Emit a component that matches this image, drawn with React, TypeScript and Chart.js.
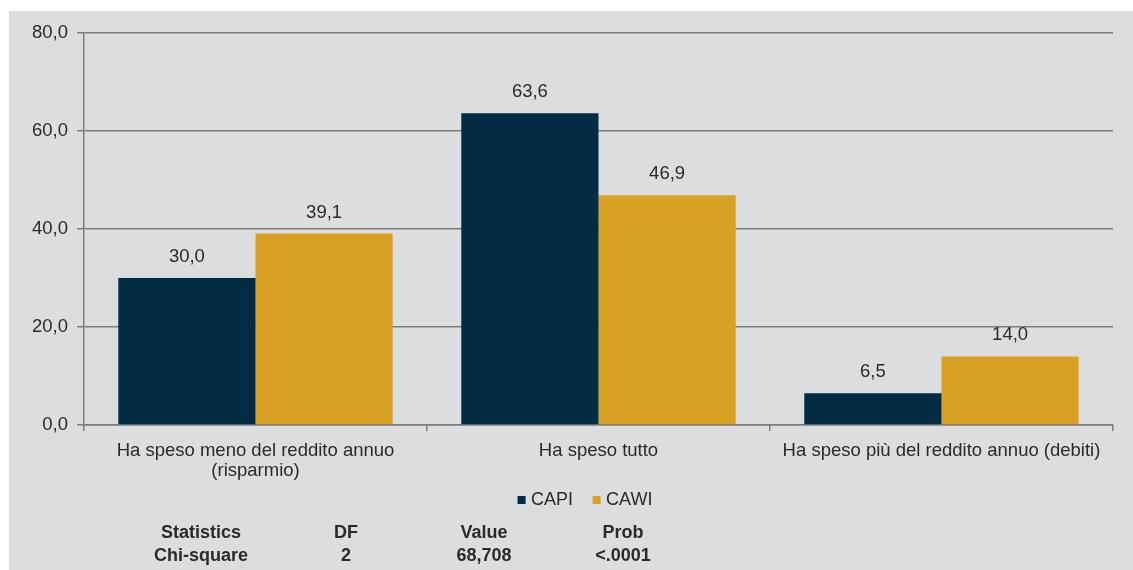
import React, { useEffect, useRef } from "react";
import { Chart, registerables } from "chart.js";

Chart.register(...registerables);

const categories: (string | string[])[] = [
  ["Ha speso meno del reddito annuo", "(risparmio)"],
  "Ha speso tutto",
  "Ha speso più del reddito annuo (debiti)",
];
const seriesNames = ["CAPI", "CAWI"];
const capiValues = [30.0, 63.6, 6.5];
const cawiValues = [39.1, 46.9, 14.0];
const seriesColors = ["#022b44", "#d8a124"];
const yMin = 0;
const yMax = 80;
const yStep = 20;
const statsHeader = ["Statistics", "DF", "Value", "Prob"];
const statsRow = ["Chi-square", "2", "68,708", "<.0001"];

const FONT = '"Liberation Sans", Arial, sans-serif';
const TEXT = "#2a2a2a";
const AXIS = "#7c7c7c";
const FS = 18.5;

const fmt = (v: number) => v.toFixed(1).replace(".", ",");

const valueLabels = {
  id: "valueLabels",
  afterDatasetsDraw(chart: any) {
    const ctx = chart.ctx;
    ctx.save();
    ctx.font = `${FS}px ${FONT}`;
    ctx.fillStyle = TEXT;
    ctx.textAlign = "center";
    ctx.textBaseline = "middle";
    chart.data.datasets.forEach((ds: any, i: number) => {
      const meta = chart.getDatasetMeta(i);
      meta.data.forEach((bar: any, j: number) => {
        ctx.fillText(fmt(ds.data[j]), bar.x, bar.y - 21);
      });
    });
    ctx.restore();
  },
};

const legendAndStats = {
  id: "legendAndStats",
  afterDraw(chart: any) {
    const ctx = chart.ctx;
    ctx.save();
    ctx.font = `18px ${FONT}`;
    ctx.textBaseline = "middle";
    ctx.textAlign = "left";
    const box = 8;
    const gap = 5.5;
    const itemGap = 19.5;
    const ds = chart.data.datasets;
    const widths = ds.map((d: any) => box + gap + ctx.measureText(d.label).width);
    const total = widths.reduce((a: number, b: number) => a + b, 0) + itemGap * (ds.length - 1);
    const cx = 576;
    const cy = 489;
    let x = cx - total / 2;
    ds.forEach((d: any, i: number) => {
      ctx.fillStyle = d.backgroundColor;
      ctx.fillRect(x, cy - box / 2, box, box);
      ctx.fillStyle = TEXT;
      ctx.fillText(d.label, x + box + gap, cy);
      x += widths[i] + itemGap;
    });
    ctx.font = `bold 18px ${FONT}`;
    ctx.textAlign = "center";
    ctx.fillStyle = TEXT;
    const cols = [192, 337, 475, 614];
    statsHeader.forEach((t, i) => ctx.fillText(t, cols[i], 522.5));
    statsRow.forEach((t, i) => ctx.fillText(t, cols[i], 545.5));
    ctx.restore();
  },
};

export default function App() {
  const ref = useRef<HTMLCanvasElement | null>(null);
  useEffect(() => {
    if (!ref.current) return;
    const chart = new Chart(ref.current, {
      type: "bar",
      data: {
        labels: categories as any,
        datasets: [
          { label: seriesNames[0], data: capiValues, backgroundColor: seriesColors[0] },
          { label: seriesNames[1], data: cawiValues, backgroundColor: seriesColors[1] },
        ],
      },
      options: {
        animation: false,
        responsive: true,
        maintainAspectRatio: false,
        layout: { padding: { top: 22, right: 20, left: 0, bottom: 0 } },
        datasets: { bar: { categoryPercentage: 0.8, barPercentage: 1.0 } },
        plugins: { legend: { display: false }, tooltip: { enabled: false } },
        scales: {
          x: {
            afterFit: (s: any) => {
              s.height = 145;
            },
            grid: {
              display: true,
              drawOnChartArea: false,
              drawTicks: true,
              tickLength: 6,
              offset: true,
              color: AXIS,
              lineWidth: 1.5,
            },
            border: { display: true, color: AXIS, width: 1.5 },
            ticks: {
              font: { family: FONT, size: FS, lineHeight: 1.07 },
              color: TEXT,
              padding: 10,
              maxRotation: 0,
              autoSkip: false,
            },
          },
          y: {
            min: yMin,
            max: yMax,
            afterFit: (s: any) => {
              s.width = 75;
            },
            grid: {
              color: AXIS,
              lineWidth: 1.5,
              tickLength: 7,
              drawTicks: true,
            },
            border: { display: true, color: AXIS, width: 1.5 },
            ticks: {
              stepSize: yStep,
              font: { family: FONT, size: FS },
              color: TEXT,
              padding: 9,
              callback: (v: any) => fmt(Number(v)),
            },
          },
        },
      },
      plugins: [valueLabels, legendAndStats],
    });
    return () => chart.destroy();
  }, []);
  return (
    <div style={{ position: "fixed", left: 0, top: 0, width: 1133, height: 570, background: "#ffffff" }}>
      <div style={{ position: "absolute", left: 9, top: 11, width: 1124, height: 559, background: "#dcdddf" }}>
        <canvas ref={ref} />
      </div>
    </div>
  );
}
